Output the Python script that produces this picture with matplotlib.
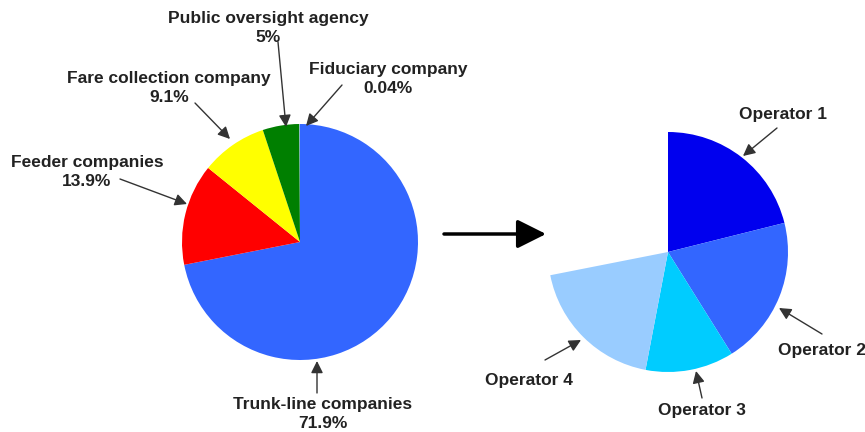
import matplotlib
matplotlib.use("Agg")
import matplotlib.pyplot as plt

# Left pie: share of the system revenue (%)
left_labels = ["Trunk-line companies", "Feeder companies", "Fare collection company",
               "Public oversight agency", "Fiduciary company"]
left_values = [71.9, 13.9, 9.1, 5.0, 0.04]
left_colors = ["#3366FF", "#FF0000", "#FFFF00", "#007F00", "#3366FF"]

# Right pie: trunk-line share split by operator (% of the whole)
op_labels = ["Operator 1", "Operator 2", "Operator 3", "Operator 4"]
op_values = [21.1, 20.0, 11.9, 18.9]
op_colors = ["#0000EE", "#3366FF", "#00CCFF", "#99CCFF"]

W, H = 865, 432


def P(x, y):
    # picture pixel coords (y down) -> axes coords (y up)
    return (x, H - y)


fig = plt.figure(figsize=(W / 100, H / 100), dpi=100)
ax = fig.add_axes([0, 0, 1, 1])

ax.pie([v / 100 for v in left_values], colors=left_colors, startangle=90,
       counterclock=False, normalize=False, center=P(300, 242), radius=118,
       wedgeprops=dict(linewidth=0))
ax.pie([v / 100 for v in op_values], colors=op_colors, startangle=90,
       counterclock=False, normalize=False, center=P(668, 252), radius=120,
       wedgeprops=dict(linewidth=0))

ax.set_xlim(0, W)
ax.set_ylim(0, H)
ax.set_aspect("equal")
ax.axis("off")

txt = dict(fontsize=12.5, fontweight="bold", family=["Liberation Sans", "DejaVu Sans"],
           color="#222222", ha="center", va="center", linespacing=1.37)
arrow = dict(arrowstyle="-|>,head_length=0.6,head_width=0.3", color="#333333",
             lw=1.0, shrinkA=0, shrinkB=0, mutation_scale=12)

# (label text, text center, arrow start, arrow tip)
left_notes = [
    (f"{left_labels[0]}\n{left_values[0]}%", (323, 414), (317, 393), (317, 361)),
    (f"{left_labels[1]}\n{left_values[1]}%", (87, 172), (120, 179), (187, 204)),
    (f"{left_labels[2]}\n{left_values[2]}%", (169, 88), (195, 103), (230, 139)),
    (f"{left_labels[3]}\n{left_values[3]:g}%", (268, 28), (278, 42), (286, 127)),
    (f"{left_labels[4]}\n{left_values[4]}%", (388, 79), (342, 85), (306, 126)),
]
for s, tpos, a0, a1 in left_notes:
    ax.text(*P(*tpos), s, **txt)
    ax.annotate("", xy=P(*a1), xytext=P(*a0), arrowprops=arrow)

op_notes = [
    ((783, 115), (777, 128), (743, 156)),
    ((822, 350), (822, 334), (779, 308)),
    ((702, 410), (702, 398), (696, 371)),
    ((529, 381), (545, 360), (581, 340)),
]
for lab, (tpos, a0, a1) in zip(op_labels, op_notes):
    ax.text(*P(*tpos), lab, **txt)
    ax.annotate("", xy=P(*a1), xytext=P(*a0), arrowprops=arrow)

# big arrow between the two pies
ax.annotate("", xy=P(546, 234), xytext=P(444, 234),
            arrowprops=dict(arrowstyle="-|>,head_length=1.1,head_width=0.55",
                            color="black", lw=2.5, shrinkA=0, shrinkB=0,
                            mutation_scale=16))

fig.savefig("out.png", dpi=100)
